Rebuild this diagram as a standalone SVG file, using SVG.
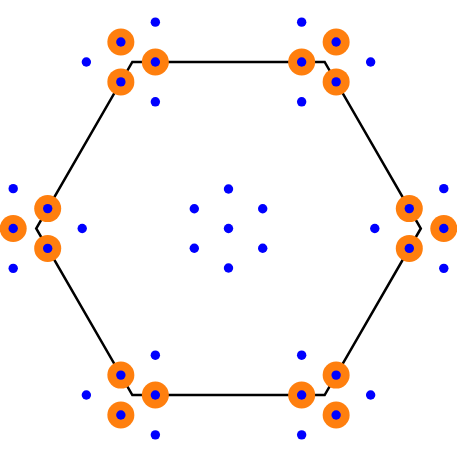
<svg xmlns="http://www.w3.org/2000/svg" width="457" height="457" viewBox="0 0 457 457">
<style>
.o{fill:#ff7f0e}
.b{fill:#0000ff}
.edge{fill:none;stroke:#000;stroke-width:2.5;stroke-linejoin:miter}
</style>
<rect width="457" height="457" fill="#fff"/>
<g id="connectors">
<polygon class="edge" points="420.8,228.5 324.65,395.03 132.35,395.03 36.2,228.5 132.35,61.97 324.65,61.97"/>
</g>
<g id="center">
<circle class="b" cx="228.5" cy="228.5" r="4.7"/>
<circle class="b" cx="228.5" cy="189" r="4.7"/>
<circle class="b" cx="194.3" cy="208.75" r="4.7"/>
<circle class="b" cx="262.7" cy="208.75" r="4.7"/>
<circle class="b" cx="194.3" cy="248.25" r="4.7"/>
<circle class="b" cx="262.7" cy="248.25" r="4.7"/>
<circle class="b" cx="228.5" cy="268" r="4.7"/>
</g>
<g id="v0">
<circle class="o" cx="443.8" cy="228.5" r="13.5"/><circle class="b" cx="443.8" cy="228.5" r="4.7"/>
<circle class="o" cx="409.3" cy="248.42" r="13.5"/><circle class="b" cx="409.3" cy="248.42" r="4.7"/>
<circle class="o" cx="409.3" cy="208.58" r="13.5"/><circle class="b" cx="409.3" cy="208.58" r="4.7"/>
<circle class="b" cx="374.8" cy="228.5" r="4.7"/>
<circle class="b" cx="443.8" cy="268.34" r="4.7"/>
<circle class="b" cx="443.8" cy="188.66" r="4.7"/>
</g>
<g id="v1">
<circle class="o" cx="336.15" cy="414.95" r="13.5"/><circle class="b" cx="336.15" cy="414.95" r="4.7"/>
<circle class="o" cx="301.65" cy="395.03" r="13.5"/><circle class="b" cx="301.65" cy="395.03" r="4.7"/>
<circle class="o" cx="336.15" cy="375.11" r="13.5"/><circle class="b" cx="336.15" cy="375.11" r="4.7"/>
<circle class="b" cx="301.65" cy="355.19" r="4.7"/>
<circle class="b" cx="301.65" cy="434.87" r="4.7"/>
<circle class="b" cx="370.65" cy="395.03" r="4.7"/>
</g>
<g id="v2">
<circle class="o" cx="120.85" cy="414.95" r="13.5"/><circle class="b" cx="120.85" cy="414.95" r="4.7"/>
<circle class="o" cx="120.85" cy="375.11" r="13.5"/><circle class="b" cx="120.85" cy="375.11" r="4.7"/>
<circle class="o" cx="155.35" cy="395.03" r="13.5"/><circle class="b" cx="155.35" cy="395.03" r="4.7"/>
<circle class="b" cx="155.35" cy="355.19" r="4.7"/>
<circle class="b" cx="86.35" cy="395.03" r="4.7"/>
<circle class="b" cx="155.35" cy="434.87" r="4.7"/>
</g>
<g id="v3">
<circle class="o" cx="13.2" cy="228.5" r="13.5"/><circle class="b" cx="13.2" cy="228.5" r="4.7"/>
<circle class="o" cx="47.7" cy="208.58" r="13.5"/><circle class="b" cx="47.7" cy="208.58" r="4.7"/>
<circle class="o" cx="47.7" cy="248.42" r="13.5"/><circle class="b" cx="47.7" cy="248.42" r="4.7"/>
<circle class="b" cx="82.2" cy="228.5" r="4.7"/>
<circle class="b" cx="13.2" cy="188.66" r="4.7"/>
<circle class="b" cx="13.2" cy="268.34" r="4.7"/>
</g>
<g id="v4">
<circle class="o" cx="120.85" cy="42.05" r="13.5"/><circle class="b" cx="120.85" cy="42.05" r="4.7"/>
<circle class="o" cx="155.35" cy="61.97" r="13.5"/><circle class="b" cx="155.35" cy="61.97" r="4.7"/>
<circle class="o" cx="120.85" cy="81.89" r="13.5"/><circle class="b" cx="120.85" cy="81.89" r="4.7"/>
<circle class="b" cx="155.35" cy="101.81" r="4.7"/>
<circle class="b" cx="155.35" cy="22.13" r="4.7"/>
<circle class="b" cx="86.35" cy="61.97" r="4.7"/>
</g>
<g id="v5">
<circle class="o" cx="336.15" cy="42.05" r="13.5"/><circle class="b" cx="336.15" cy="42.05" r="4.7"/>
<circle class="o" cx="336.15" cy="81.89" r="13.5"/><circle class="b" cx="336.15" cy="81.89" r="4.7"/>
<circle class="o" cx="301.65" cy="61.97" r="13.5"/><circle class="b" cx="301.65" cy="61.97" r="4.7"/>
<circle class="b" cx="301.65" cy="101.81" r="4.7"/>
<circle class="b" cx="301.65" cy="22.13" r="4.7"/>
<circle class="b" cx="370.65" cy="61.97" r="4.7"/>
</g>
</svg>
